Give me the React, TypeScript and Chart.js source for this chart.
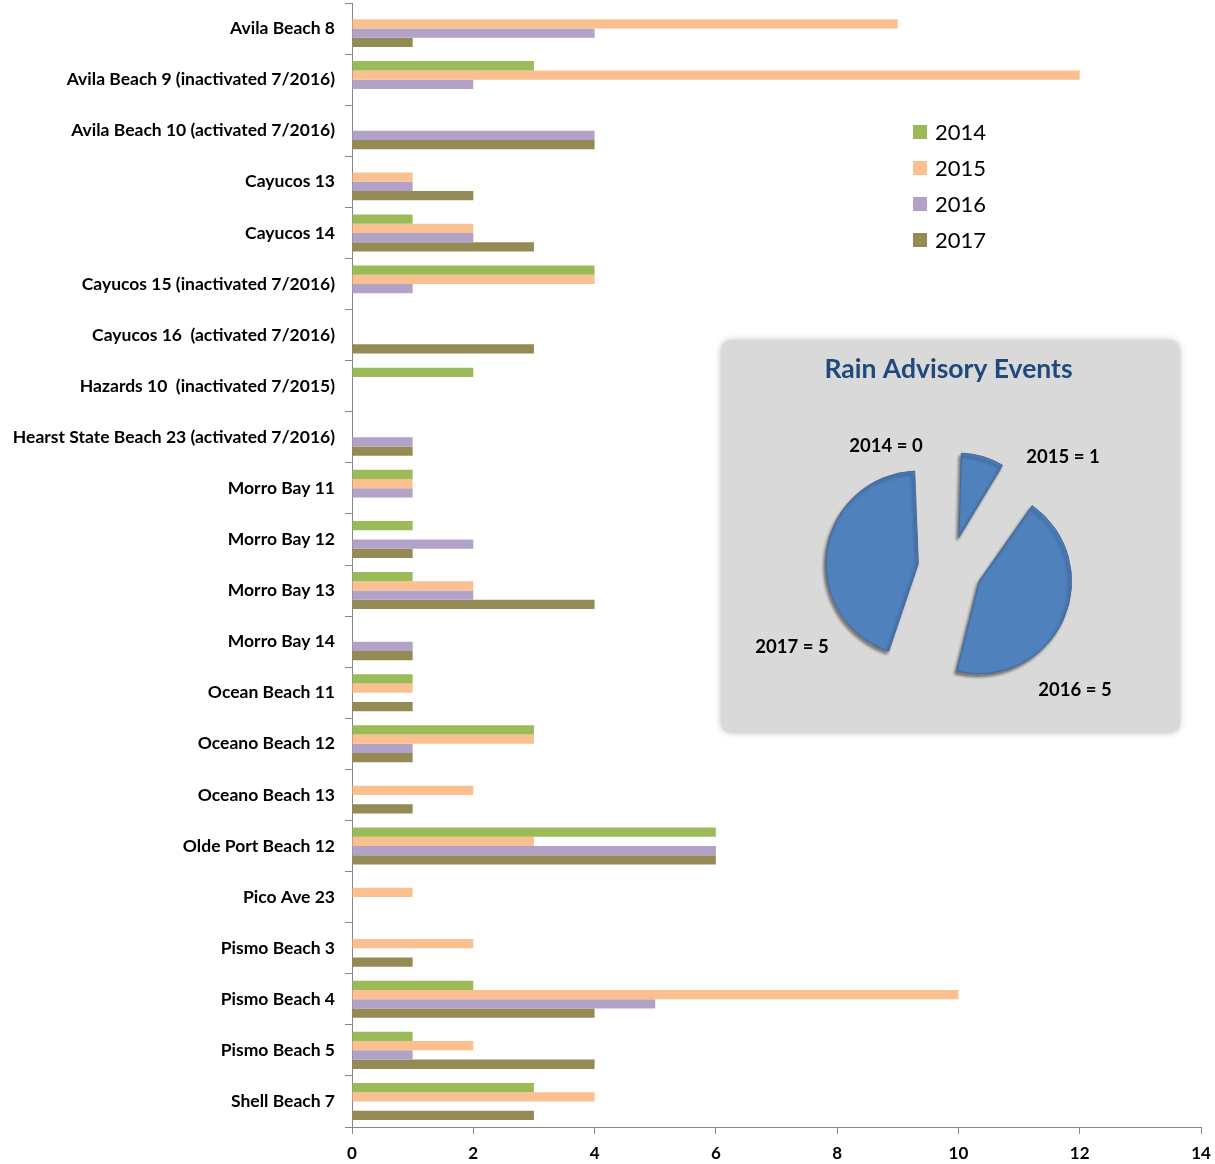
import React, { useEffect, useRef } from 'react';
import { Chart, registerables } from 'chart.js';

Chart.register(...registerables);

const categories = [
  'Avila Beach 8',
  'Avila Beach 9 (inactivated 7/2016)',
  'Avila Beach 10 (activated 7/2016)',
  'Cayucos 13',
  'Cayucos 14',
  'Cayucos 15 (inactivated 7/2016)',
  'Cayucos 16  (activated 7/2016)',
  'Hazards 10  (inactivated 7/2015)',
  'Hearst State Beach 23 (activated 7/2016)',
  'Morro Bay 11',
  'Morro Bay 12',
  'Morro Bay 13',
  'Morro Bay 14',
  'Ocean Beach 11',
  'Oceano Beach 12',
  'Oceano Beach 13',
  'Olde Port Beach 12',
  'Pico Ave 23',
  'Pismo Beach 3',
  'Pismo Beach 4',
  'Pismo Beach 5',
  'Shell Beach 7',
];

const years = ['2014', '2015', '2016', '2017'];

const values2014 = [0, 3, 0, 0, 1, 4, 0, 2, 0, 1, 1, 1, 0, 1, 3, 0, 6, 0, 0, 2, 1, 3];
const values2015 = [9, 12, 0, 1, 2, 4, 0, 0, 0, 1, 0, 2, 0, 1, 3, 2, 3, 1, 2, 10, 2, 4];
const values2016 = [4, 2, 4, 1, 2, 1, 0, 0, 1, 1, 2, 2, 1, 0, 1, 0, 6, 0, 0, 5, 1, 0];
const values2017 = [1, 0, 4, 2, 3, 0, 3, 0, 1, 0, 1, 4, 1, 1, 1, 1, 6, 0, 1, 4, 4, 3];

const xTicks = [0, 2, 4, 6, 8, 10, 12, 14];

const pieTitle = 'Rain Advisory Events';
const pieLabels = ['2014', '2015', '2016', '2017'];
const pieValues = [0, 1, 5, 5];

const seriesColors = ['#9BBB59', '#FAC090', '#B3A2C7', '#948A54'];
const FONT = 'Lato, "Open Sans", sans-serif';

// text offsets of pie labels from the pie centre
const pieLabelOffsets = [
  [-64, -122],
  [113, -111],
  [125, 122],
  [-158, 79],
];

export default function App() {
  const barRef = useRef<HTMLCanvasElement>(null);
  const pieRef = useRef<HTMLCanvasElement>(null);

  useEffect(() => {
    const series = [values2014, values2015, values2016, values2017];

    const legendPlugin = {
      id: 'sideLegend',
      afterDraw(chart: any) {
        const ctx = chart.ctx;
        ctx.save();
        years.forEach((y, i) => {
          const cy = 132 + i * 36;
          ctx.fillStyle = seriesColors[i];
          ctx.fillRect(913, cy - 7, 14, 14);
          ctx.fillStyle = '#000';
          ctx.font = `22px ${FONT}`;
          ctx.textBaseline = 'middle';
          ctx.textAlign = 'left';
          ctx.fillText(y, 935, cy + 1);
        });
        ctx.restore();
      },
    };

    const bar = new Chart(barRef.current!, {
      type: 'bar',
      data: {
        labels: categories,
        datasets: years.map((y, i) => ({
          label: y,
          data: series[i],
          backgroundColor: seriesColors[i],
          borderWidth: 0,
          categoryPercentage: 0.725,
          barPercentage: 1,
        })),
      },
      options: {
        indexAxis: 'y',
        responsive: false,
        animation: false,
        layout: { padding: { top: 3, right: 14, left: 0, bottom: 0 } },
        plugins: {
          legend: { display: false },
          tooltip: { enabled: false },
          title: { display: false },
        },
        scales: {
          x: {
            min: 0,
            max: 14,
            afterBuildTicks: (s: any) => {
              s.ticks = xTicks.map((v) => ({ value: v }));
            },
            ticks: {
              color: '#000',
              font: { family: FONT, weight: 'bold', size: 17 },
              padding: 9,
            },
            grid: { drawOnChartArea: false, drawTicks: true, tickLength: 7, color: '#868686' },
            border: { color: '#868686' },
            afterFit: (s: any) => {
              s.height = 37;
              s.paddingLeft = 0;
              s.paddingRight = 0;
            },
          },
          y: {
            ticks: {
              color: '#000',
              font: { family: FONT, weight: 'bold', size: 17.5 },
              padding: 10,
              autoSkip: false,
            },
            grid: { drawOnChartArea: false, tickLength: 7, color: '#868686', offset: true },
            border: { color: '#868686' },
            afterFit: (s: any) => {
              s.width = 352;
              s.paddingTop = 0;
              s.paddingBottom = 0;
            },
          },
        },
      } as any,
      plugins: [legendPlugin],
    });

    const pieDecor = {
      id: 'pieDecor',
      beforeDatasetsDraw(chart: any) {
        const ctx = chart.ctx;
        ctx.save();
        ctx.shadowColor = 'rgba(0,0,0,0.45)';
        ctx.shadowBlur = 3;
        ctx.shadowOffsetX = -2;
        ctx.shadowOffsetY = 3;
      },
      afterDatasetsDraw(chart: any) {
        const ctx = chart.ctx;
        ctx.restore();
        const arc = chart.getDatasetMeta(0).data[0];
        const cx = arc.x;
        const cy = arc.y;
        ctx.save();
        ctx.fillStyle = '#1F497D';
        ctx.font = `bold 26.5px ${FONT}`;
        ctx.textAlign = 'center';
        ctx.textBaseline = 'middle';
        ctx.fillText(pieTitle, chart.width / 2 - 2, 29);
        ctx.fillStyle = '#000';
        ctx.font = `bold 18.5px ${FONT}`;
        pieLabels.forEach((l, i) => {
          const [dx, dy] = pieLabelOffsets[i];
          ctx.fillText(`${l} = ${pieValues[i]}`, cx + dx, cy + dy);
        });
        ctx.restore();
      },
    };

    const pie = new Chart(pieRef.current!, {
      type: 'pie',
      data: {
        labels: pieLabels,
        datasets: [
          {
            data: pieValues,
            backgroundColor: '#4F81BD',
            borderColor: '#41699A',
            borderWidth: 1,
            offset: 128,
            hoverOffset: 0,
          },
        ],
      },
      options: {
        responsive: false,
        animation: false,
        layout: { padding: { left: 95, top: 94, right: 96, bottom: 31 } },
        plugins: { legend: { display: false }, tooltip: { enabled: false } },
      } as any,
      plugins: [pieDecor],
    });

    return () => {
      bar.destroy();
      pie.destroy();
    };
  }, []);

  return (
    <div
      style={{
        position: 'fixed',
        left: 0,
        top: 0,
        width: 1215,
        height: 1164,
        background: '#fff',
        overflow: 'hidden',
      }}
    >
      <canvas ref={barRef} width={1215} height={1164} style={{ position: 'absolute', left: 0, top: 0 }} />
      <div
        style={{
          position: 'absolute',
          left: 721,
          top: 340,
          width: 459,
          height: 393,
          background: '#D9D9D9',
          borderRadius: 10,
          boxShadow: '0 0 6px rgba(0,0,0,0.25)',
        }}
      >
        <canvas ref={pieRef} width={459} height={393} style={{ position: 'absolute', left: 0, top: 0 }} />
      </div>
    </div>
  );
}
